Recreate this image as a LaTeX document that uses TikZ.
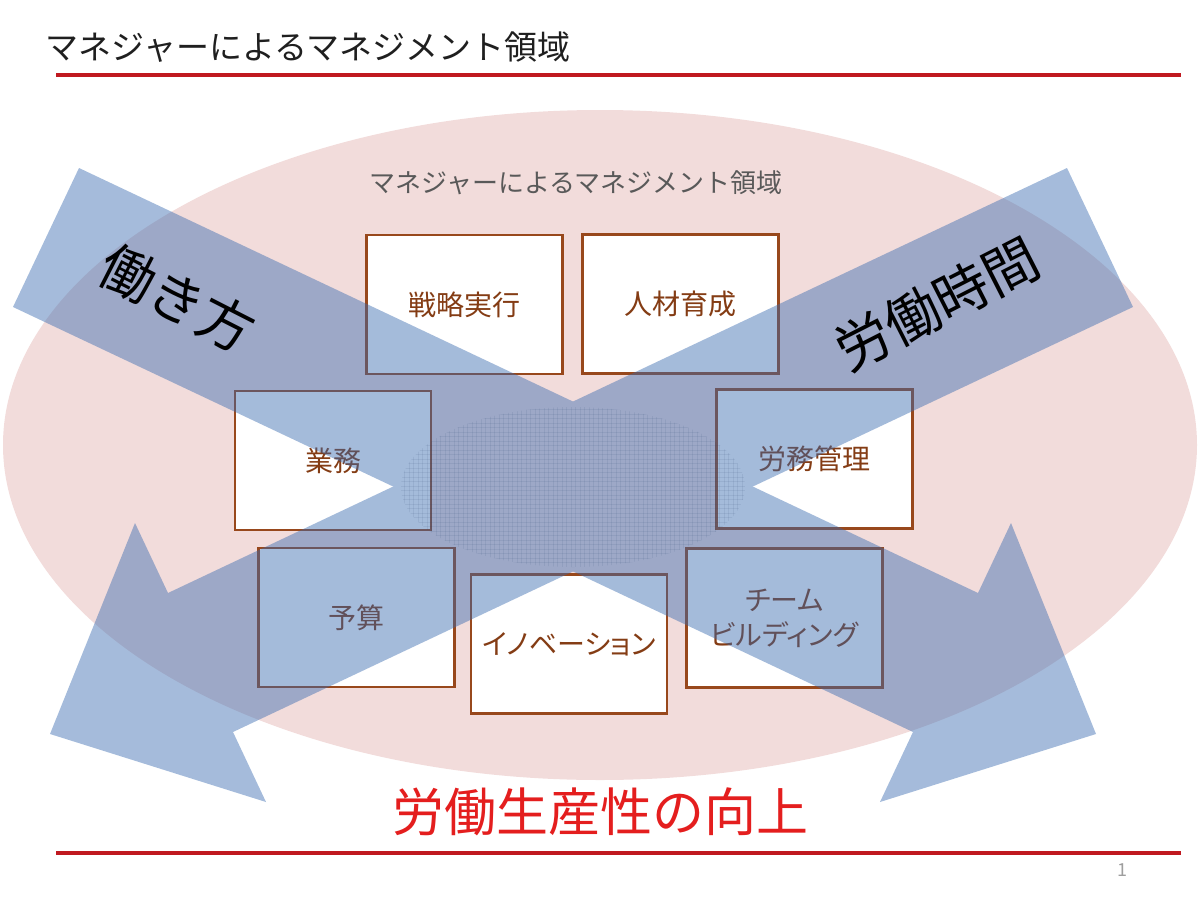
\documentclass[tikz,border=0pt]{standalone}
\usepackage{fontspec}
\setmainfont{Noto Sans CJK JP}
\newfontfamily\jpprop[RawFeature=+palt]{Noto Sans CJK JP}
\definecolor{zonepink}{RGB}{242,220,219}
\definecolor{arrowblue}{RGB}{55,105,175}
\definecolor{boxbrown}{RGB}{152,72,28}
\definecolor{labelbrown}{RGB}{132,60,20}
\definecolor{rulered}{RGB}{192,25,32}
\definecolor{headred}{RGB}{228,30,30}
\definecolor{zonegray}{RGB}{89,89,89}
\tikzset {
    task/.style = {
        draw = boxbrown, line width = 2.8pt, fill = white,
        minimum width = 196pt, minimum height = 139pt, inner sep = 0pt,
        align = center, text = labelbrown,
        font = \jpprop\fontsize{28}{35}\selectfont
    },
    rule line/.style = {draw = rulered, line width = 3.5pt},
    big arrow/.style = {fill = arrowblue},
    slant text/.style = {text = black, font = \fontsize{55}{60}\selectfont},
    %
    texture/.style = {draw = arrowblue!60!black, line width = 0.35pt, opacity = 0.09}
}
\begin{document}
\begin{tikzpicture}[x = 1pt, y = -1pt]
    \useasboundingbox (0, 0) rectangle (1200, 900);
    \fill [zonepink] (600, 445) ellipse [x radius = 597, y radius = 335];
    \node (zone) [text = zonegray, font = \fontsize{26}{30}\selectfont] at (576, 183) {マネジャーによるマネジメント領域};
    \node (title) [text = black!88, font = \fontsize{33}{38}\selectfont] at (308, 47) {マネジャーによるマネジメント領域};
    \draw [rule line] (56, 75) -- (1181, 75);
    \draw [rule line] (56, 853) -- (1181, 853);
    \node (page) [text = black!38, font = \fontsize{18}{20}\selectfont] at (1122, 870) {1};
    \node (plan) [task] at (464.5, 304.5) {戦略実行};
    \node (staff) [task] at (680.5, 304) {人材育成};
    \node (work) [task] at (333, 460.5) {業務};
    \node (labour) [task] at (814.5, 459) {労務管理};
    \node (budget) [task] at (356.5, 617.5) {予算};
    \node (innov) [task] at (569, 644) {イノベーション};
    \node (team) [task] at (784.5, 618) {チーム\\ビルディング};
    \begin{scope}[transparency group, opacity = 0.45]
        \fill [big arrow] (79, 168) -- (978, 593) -- (1011, 523) -- (1096, 734)
            -- (880, 802) -- (913, 732) -- (13, 307) -- cycle;
        \fill [big arrow] (1067, 168) -- (168, 593) -- (135, 523) -- (50, 734)
            -- (266, 802) -- (233, 732) -- (1133, 307) -- cycle;
    \end{scope}
    \begin{scope}
        \clip (573, 487) ellipse [x radius = 172, y radius = 80];
        \foreach \gx in {400, 404.5, ..., 750}
            \draw [texture] (\gx, 400) -- (\gx, 575);
        \foreach \gy in {405, 409.5, ..., 572}
            \draw [texture] (398, \gy) -- (750, \gy);
    \end{scope}
    \node (style) [slant text, rotate = -27] at (177, 298) {働き方};
    \node (hours) [slant text, rotate = 27] at (937, 304) {労働時間};
    \node (goal) [text = headred, font = \fontsize{52}{58}\selectfont] at (600, 812) {労働生産性の向上};
\end{tikzpicture}
\end{document}
